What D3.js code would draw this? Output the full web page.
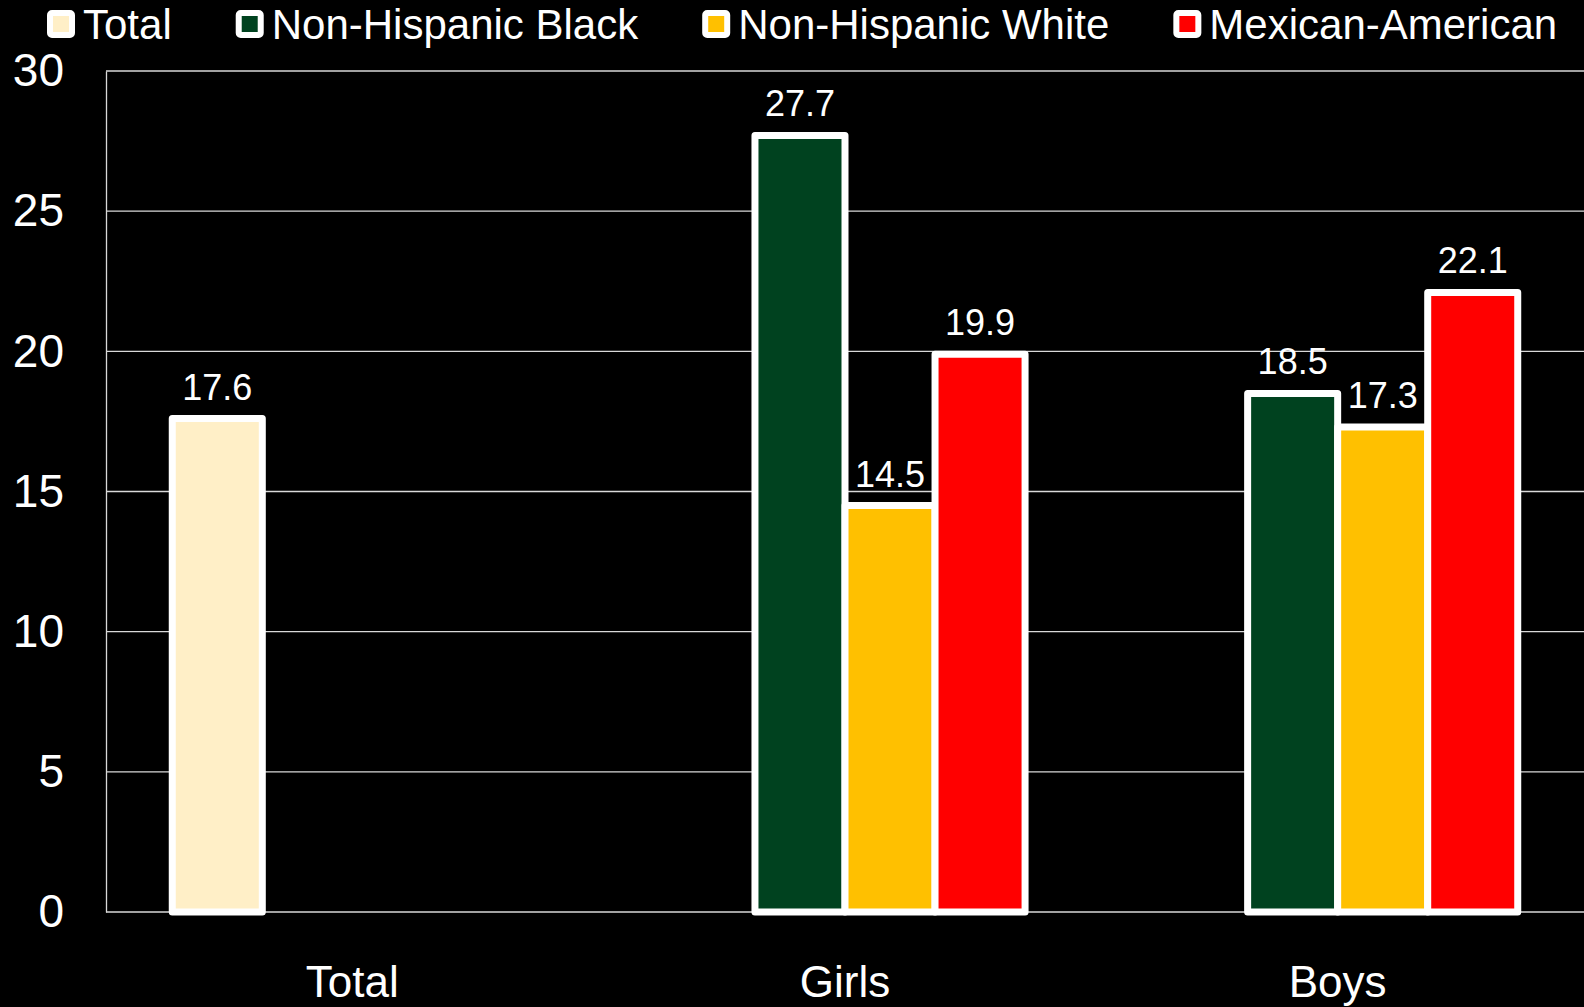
<!DOCTYPE html>
<html>
<head>
<meta charset="utf-8">
<script src="https://cdn.jsdelivr.net/npm/d3@7"></script>
<style>
  html, body { margin: 0; padding: 0; background: #000; }
  svg { display: block; }
  text { font-family: "Liberation Sans", Arial, sans-serif; fill: #fff; }
</style>
</head>
<body>
<div id="chart"></div>
<script>
// data
const categories = ["Total", "Girls", "Boys"];
const series = ["Total", "Non-Hispanic Black", "Non-Hispanic White", "Mexican-American"];
const colors = ["#FFEFC7", "#00421F", "#FFC000", "#FF0000"];
const totalValues = [17.6, null, null];
const blackValues = [null, 27.7, 18.5];
const whiteValues = [null, 14.5, 17.3];
const mexicanValues = [null, 19.9, 22.1];
const yTicks = [0, 5, 10, 15, 20, 25, 30];

const seriesValues = [totalValues, blackValues, whiteValues, mexicanValues];

// plot parameters
const w = 1584, h = 1007;
const plotLeft = 106, plotRight = 1584, plotTop = 71, plotBottom = 912;

const svg = d3.select("#chart").append("svg")
  .attr("width", w).attr("height", h);

const x0 = d3.scaleBand()
  .domain(categories)
  .range([plotLeft, plotRight])
  .paddingInner(0.269)
  .paddingOuter(0.1345);

const x1 = d3.scaleBand()
  .domain(series)
  .range([0, x0.bandwidth()]);

const y = d3.scaleLinear()
  .domain([0, 30])
  .range([plotBottom, plotTop]);

// gridlines
svg.append("g")
  .selectAll("line")
  .data(yTicks)
  .enter()
  .append("line")
  .attr("x1", plotLeft).attr("x2", plotRight)
  .attr("y1", d => y(d)).attr("y2", d => y(d))
  .attr("stroke", "#d9d9d9")
  .attr("stroke-width", 1.3);

// y axis
const yAxis = d3.axisLeft(y).tickValues(yTicks).tickSize(0).tickPadding(42);
const gy = svg.append("g")
  .attr("transform", "translate(" + plotLeft + ",0)")
  .call(yAxis);
gy.select(".domain").attr("stroke", "#d9d9d9").attr("stroke-width", 1.3);
gy.selectAll("text")
  .style("font-family", '"Liberation Sans", Arial, sans-serif')
  .style("font-size", "46px")
  .attr("fill", "#fff");

// category labels
svg.append("g")
  .selectAll("text")
  .data(categories)
  .enter()
  .append("text")
  .attr("x", d => x0(d) + x0.bandwidth() / 2)
  .attr("y", 997)
  .attr("text-anchor", "middle")
  .style("font-size", "44px")
  .text(d => d);

// bars
const barData = [];
series.forEach((s, i) => {
  categories.forEach((c, j) => {
    const v = seriesValues[i][j];
    if (v != null) barData.push({ cat: c, ser: s, value: v, color: colors[i] });
  });
});

svg.append("g")
  .selectAll("rect")
  .data(barData)
  .enter()
  .append("rect")
  .attr("x", d => x0(d.cat) + x1(d.ser))
  .attr("y", d => y(d.value))
  .attr("width", x1.bandwidth())
  .attr("height", d => y(0) - y(d.value))
  .attr("fill", d => d.color)
  .attr("stroke", "#fff")
  .attr("stroke-width", 7)
  .attr("stroke-linejoin", "round");

// value labels
svg.append("g")
  .selectAll("text")
  .data(barData)
  .enter()
  .append("text")
  .attr("x", d => x0(d.cat) + x1(d.ser) + x1.bandwidth() / 2)
  .attr("y", d => y(d.value) - 19)
  .attr("text-anchor", "middle")
  .style("font-size", "36px")
  .text(d => d.value.toFixed(1));

// legend
const legend = svg.append("g");
let lx = 47;
series.forEach((s, i) => {
  const item = legend.append("g").attr("transform", "translate(" + lx + ",0)");
  item.append("rect")
    .attr("x", 3).attr("y", 13).attr("width", 22).attr("height", 22)
    .attr("rx", 2)
    .attr("fill", colors[i])
    .attr("stroke", "#fff")
    .attr("stroke-width", 6);
  const t = item.append("text")
    .attr("x", 36)
    .attr("y", 39)
    .style("font-size", "42px")
    .text(s);
  lx += 36 + t.node().getComputedTextLength() + 64;
});
</script>
</body>
</html>
